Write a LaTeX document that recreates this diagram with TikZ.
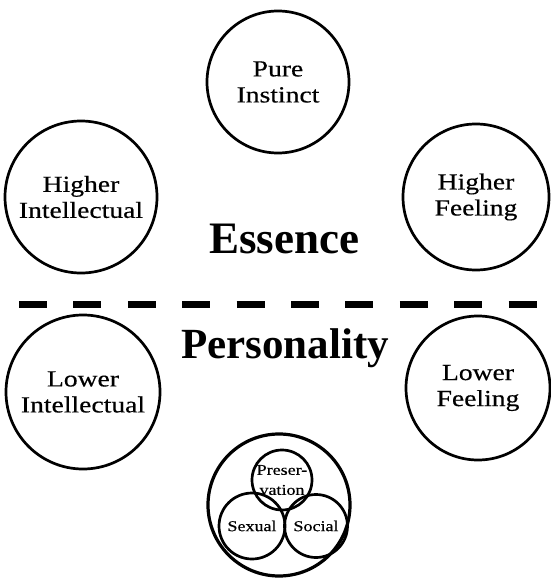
\documentclass[tikz,border=0pt]{standalone}
\usepackage{fontspec}
\newfontfamily\labelfont{Liberation Serif}[FakeStretch=1.2,FakeBold=0.4]
\newfontfamily\titlefont{Liberation Serif}
\usetikzlibrary{positioning}

\begin{document}
\begin{tikzpicture}[
  x=1pt, y=-1pt,
  centre/.style={circle,draw,line width=2.7pt,inner sep=0pt,align=center,
    font=\labelfont\fontsize{23}{26}\selectfont},
  drive/.style={circle,draw,line width=2.7pt,inner sep=-6pt,align=center,
    font=\labelfont\fontsize{15}{20}\selectfont},
  title/.style={anchor=base,inner sep=0pt,font=\titlefont\bfseries},
  divider/.style={line width=7pt,dash pattern=on 28pt off 26.4pt}
]
  \useasboundingbox (0,0) rectangle (550,583);

  % Essence
  \node [centre,minimum size=142pt] (pure) at (278,82) {Pure\\Instinct};
  \node [centre,minimum size=152pt] (hint) at (81,197) {Higher\\Intellectual};
  \node [centre,minimum size=146pt] (hfeel) at (476,197) {Higher\\Feeling};
  \node [title,font=\titlefont\bfseries\fontsize{45}{50}\selectfont] (essence) at (284,253) {Essence};

  % separator
  \coordinate (sepl) at (19,304);
  \coordinate (sepr) at (537,304);
  \draw [divider] (sepl) -- (sepr);

  % Personality
  \node [title,font=\titlefont\bfseries\fontsize{43}{48}\selectfont] (person) at (285,358) {Personality};
  \node [centre,minimum size=154pt] (lint) at (83,392) {Lower\\Intellectual};
  \node [centre,minimum size=144pt] (lfeel) at (478,388) {Lower\\Feeling};

  % Instinctive centre
  \node [circle,draw,line width=3.2pt,minimum size=142pt] (instinct) at (279,505) {};
  \node [drive,minimum size=60pt] (preserv) at (282,480) {Preser-\\vation};
  \node [drive,minimum size=66pt] (sexual) at (252,526) {Sexual};
  \node [drive,minimum size=63pt] (social) at (316,526) {Social};
\end{tikzpicture}
\end{document}
